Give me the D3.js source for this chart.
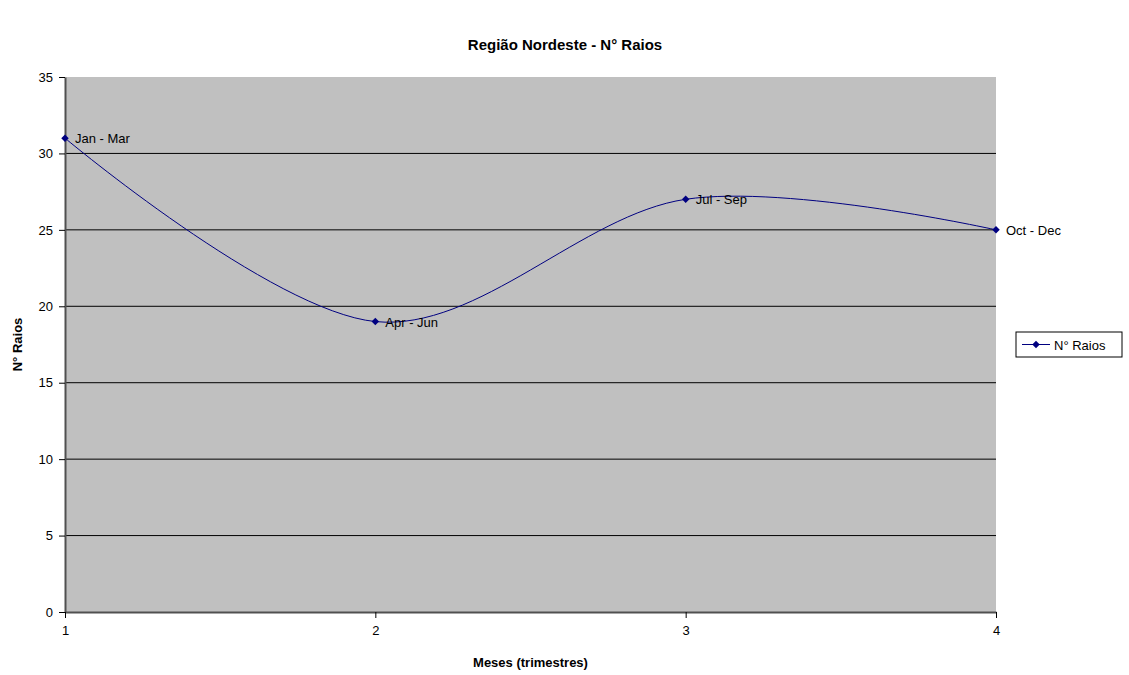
<!DOCTYPE html>
<html>
<head>
<meta charset="utf-8">
<script src="https://cdn.jsdelivr.net/npm/d3@7"></script>
<style>
  body { margin: 0; background: #fff; }
  text { font-family: "Liberation Sans", Arial, sans-serif; }
</style>
</head>
<body>
<div id="chart"></div>
<script>
// data
var quarters = [1, 2, 3, 4];
var raios = [31, 19, 27, 25];
var labels = ['Jan - Mar', 'Apr - Jun', 'Jul - Sep', 'Oct - Dec'];
var yTicks = [0, 5, 10, 15, 20, 25, 30, 35];

var width = 1129, height = 675;
var margin = {left: 65, right: 133, top: 77, bottom: 63};
var plotW = width - margin.left - margin.right;
var plotH = height - margin.top - margin.bottom;

var svg = d3.select('#chart')
	.append('svg')
		.attr('width', width)
		.attr('height', height);

var g = svg.append('g')
	.attr('transform', 'translate(' + margin.left + ',' + margin.top + ')');

var x = d3.scaleLinear().domain([1, 4]).range([0, plotW]);
var y = d3.scaleLinear().domain([0, 35]).range([plotH, 0]);

// plot background
g.append('rect')
	.attr('width', plotW)
	.attr('height', plotH)
	.attr('fill', '#c0c0c0');

// gridlines
g.selectAll('.grid')
	.data(yTicks.filter(function(d) { return d > 0 && d < 35; })).enter()
	.append('line')
		.attr('x1', 0).attr('x2', plotW)
		.attr('y1', function(d) { return y(d); })
		.attr('y2', function(d) { return y(d); })
		.attr('stroke', '#000')
		.attr('stroke-width', 1);

// axes
var yAxis = g.append('g')
	.call(d3.axisLeft(y).tickValues(yTicks).tickSize(6).tickSizeOuter(0));
var xAxis = g.append('g')
	.attr('transform', 'translate(0,' + plotH + ')')
	.call(d3.axisBottom(x).tickValues(quarters).tickFormat(d3.format('d')).tickSize(6).tickSizeOuter(0));

[yAxis, xAxis].forEach(function(a) {
	a.select('.domain').attr('stroke', '#505050').attr('stroke-width', 2);
	a.selectAll('.tick line').attr('stroke', '#000');
	a.selectAll('.tick text')
		.style('font-family', '"Liberation Sans", Arial, sans-serif')
		.style('font-size', '13px')
		.attr('fill', '#000');
});
yAxis.selectAll('.tick text').attr('x', -12);
xAxis.selectAll('.tick text').attr('y', 14);

// smoothed line
var line = d3.line()
	.x(function(d, i) { return x(quarters[i]); })
	.y(function(d) { return y(d); })
	.curve(d3.curveCardinal.tension(0));

g.append('path')
	.datum(raios)
	.attr('d', line)
	.attr('fill', 'none')
	.attr('stroke', '#000080')
	.attr('stroke-width', 1);

// square turned 45deg, like the excel diamond
var diamond = d3.symbol().type(d3.symbolSquare).size(28);

g.selectAll('.pt')
	.data(raios).enter()
	.append('path')
		.attr('class', 'pt')
		.attr('d', diamond)
		.attr('transform', function(d, i) { return 'translate(' + x(quarters[i]) + ',' + y(d) + ') rotate(45)'; })
		.attr('fill', '#000080');

g.selectAll('.lbl')
	.data(raios).enter()
	.append('text')
		.attr('x', function(d, i) { return x(quarters[i]) + 10; })
		.attr('y', function(d) { return y(d) + 5; })
		.style('font-size', '13px')
		.text(function(d, i) { return labels[i]; });

// titles
svg.append('text')
	.attr('x', 565).attr('y', 50)
	.attr('text-anchor', 'middle')
	.style('font-size', '15px')
	.style('font-weight', 'bold')
	.text('Região Nordeste - N° Raios');

svg.append('text')
	.attr('x', margin.left + plotW / 2).attr('y', 667)
	.attr('text-anchor', 'middle')
	.style('font-size', '13px')
	.style('font-weight', 'bold')
	.text('Meses (trimestres)');

svg.append('text')
	.attr('transform', 'translate(22,' + (margin.top + plotH / 2) + ') rotate(-90)')
	.attr('text-anchor', 'middle')
	.style('font-size', '13px')
	.style('font-weight', 'bold')
	.text('N° Raios');

// legend
var leg = svg.append('g').attr('transform', 'translate(1016,332)');
leg.append('rect')
	.attr('width', 106).attr('height', 25)
	.attr('fill', '#fff')
	.attr('stroke', '#000');
leg.append('line')
	.attr('x1', 6).attr('x2', 34)
	.attr('y1', 12.5).attr('y2', 12.5)
	.attr('stroke', '#000080');
leg.append('path')
	.attr('d', diamond)
	.attr('transform', 'translate(20,12.5) rotate(45)')
	.attr('fill', '#000080');
leg.append('text')
	.attr('x', 38).attr('y', 17.5)
	.style('font-size', '13px')
	.text('N° Raios');
</script>
</body>
</html>
